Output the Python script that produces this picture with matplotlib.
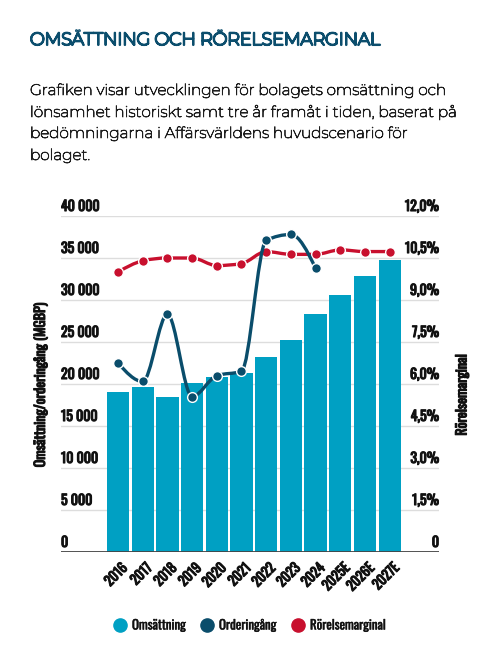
import numpy as np
import matplotlib
matplotlib.use("Agg")
import matplotlib.pyplot as plt
import matplotlib.patheffects as pe
from matplotlib.path import Path
from matplotlib.patches import PathPatch
from matplotlib.lines import Line2D
import matplotlib.transforms as mtransforms

# ---------------------------------------------------------------------
# Data
# ---------------------------------------------------------------------
years = ["2016", "2017", "2018", "2019", "2020", "2021", "2022", "2023",
         "2024", "2025E", "2026E", "2027E"]
omsattning = [19100, 19700, 18500, 20150, 20850, 21350, 23250, 25200,
              28300, 30600, 32800, 34800]
orderingang = [22500, 20300, 28300, 18500, 21000, 21500, 37100, 37800,
               33800]
marginal = [10.0, 10.4, 10.5, 10.5, 10.23, 10.3, 10.73, 10.63, 10.63,
            10.79, 10.73, 10.73]

left_ticks = [0, 5000, 10000, 15000, 20000, 25000, 30000, 35000, 40000]
left_labels = ["0", "5 000", "10 000", "15 000", "20 000", "25 000",
               "30 000", "35 000", "40 000"]
right_ticks = [0, 1.5, 3.0, 4.5, 6.0, 7.5, 9.0, 10.5, 12.0]
right_labels = ["0", "1,5%", "3,0%", "4,5%", "6,0%", "7,5%", "9,0%",
                "10,5%", "12,0%"]
legend_names = ["Omsättning", "Orderingång", "Rörelsemarginal"]

C_BAR = "#00a0c3"
C_ORDER = "#0a4d6b"
C_MARG = "#c8102e"
C_TITLE = "#0c4e6d"
C_TEXT = "#111111"

COND = ["Oswald", "Roboto Condensed", "DejaVu Sans"]
SANS = ["Montserrat", "Open Sans", "DejaVu Sans"]

# the installed variable fonts only give their light default instance,
# so thicken with a stroke of the same colour
def heavy(w, c):
    return [pe.withStroke(linewidth=w, foreground=c)]


def monotone_path(xs, ys):
    """Monotone cubic (Fritsch-Carlson, like d3 curveMonotoneX) as a bezier path."""
    xs = np.asarray(xs, float)
    ys = np.asarray(ys, float)
    n = len(xs)
    h = np.diff(xs)
    s = np.diff(ys) / h
    t = np.zeros(n)
    for i in range(1, n - 1):
        p = (s[i - 1] * h[i] + s[i] * h[i - 1]) / (h[i - 1] + h[i])
        t[i] = (np.sign(s[i - 1]) + np.sign(s[i])) * min(abs(s[i - 1]), abs(s[i]), 0.5 * abs(p))
    t[0] = (3 * s[0] - t[1]) / 2
    t[-1] = (3 * s[-1] - t[-2]) / 2
    verts = [(xs[0], ys[0])]
    codes = [Path.MOVETO]
    for i in range(n - 1):
        dx = h[i] / 3
        verts += [(xs[i] + dx, ys[i] + dx * t[i]),
                  (xs[i + 1] - dx, ys[i + 1] - dx * t[i + 1]),
                  (xs[i + 1], ys[i + 1])]
        codes += [Path.CURVE4] * 3
    return Path(verts, codes)


fig = plt.figure(figsize=(5.0, 6.63), dpi=100)

# title + intro
fig.text(30 / 500, 1 - 45 / 663, "OMSÄTTNING OCH RÖRELSEMARGINAL",
         fontsize=12.6, family=SANS, color=C_TITLE, va="baseline", ha="left",
         path_effects=heavy(1.5, C_TITLE))
intro = ["Grafiken visar utvecklingen för bolagets omsättning och",
         "lönsamhet historiskt samt tre år framåt i tiden, baserat på",
         "bedömningarna i Affärsvärldens huvudscenario för",
         "bolaget."]
for line, base in zip(intro, [95, 117, 138, 160]):
    fig.text(30 / 500, 1 - base / 663, line, fontsize=11.0, family=SANS,
             color="#1e1e1e", va="baseline", ha="left",
             path_effects=heavy(0.55, "#1e1e1e"))

ax = fig.add_axes([61 / 500, 1 - 552 / 663, 378 / 500, 336 / 663])
ax2 = ax.twinx()

x = np.arange(len(years))
ax.set_xlim(-2.31, 13.0)
ax.set_ylim(0, 40000)
ax2.set_ylim(0, 12.0)

for a in (ax, ax2):
    for s in a.spines.values():
        s.set_visible(False)
    a.set_xticks([])
    a.set_yticks([])

# gridlines
for t in left_ticks[1:]:
    ax.axhline(t, color="#dddddd", lw=1.0, zorder=0)
ax.axhline(0, color="#444444", lw=1.3, zorder=3)

ax.bar(x, omsattning, width=0.9, color=C_BAR, zorder=2)

# Rörelsemarginal (right axis)
ax2.add_patch(PathPatch(monotone_path(x, marginal), fill=False,
                        edgecolor=C_MARG, lw=2.4, zorder=4))
ax2.plot(x, marginal, "o", color=C_MARG, ms=7, mec="white", mew=1.0,
         zorder=5)

# Orderingång (left axis), drawn on ax2 so it sits above the margin line
xo = x[:len(orderingang)]
ord_scaled = np.array(orderingang) * 12.0 / 40000
ax2.add_patch(PathPatch(monotone_path(xo, ord_scaled), fill=False,
                        edgecolor=C_ORDER, lw=2.4, zorder=6))
ax2.plot(xo, ord_scaled, "o", color=C_ORDER, ms=7, mec="white", mew=1.0,
         zorder=7)

# y tick labels above gridlines
up = mtransforms.ScaledTranslation(0, 3 / 100, fig.dpi_scale_trans)
tl = mtransforms.blended_transform_factory(ax.transAxes, ax.transData) + up
for t, lab in zip(left_ticks, left_labels):
    ax.text(0, t, lab, transform=tl, ha="left", va="bottom", fontsize=10,
            family=COND, color=C_TEXT, path_effects=heavy(0.8, C_TEXT))
tr = mtransforms.blended_transform_factory(ax2.transAxes, ax2.transData) + up
for t, lab in zip(right_ticks, right_labels):
    ax2.text(1, t, lab, transform=tr, ha="right", va="bottom", fontsize=10,
             family=COND, color=C_TEXT, path_effects=heavy(0.8, C_TEXT))

# x labels
down = mtransforms.ScaledTranslation(2.5 / 100, -9 / 100, fig.dpi_scale_trans)
for xi, lab in zip(x, years):
    ax.text(xi, 0, lab, transform=ax.transData + down, rotation=45,
            rotation_mode="anchor", ha="right", va="top", fontsize=9.8,
            family=COND, color=C_TEXT, path_effects=heavy(0.8, C_TEXT))

fig.text(41 / 500, 1 - 385 / 663, "Omsättning/orderingång (MGBP)",
         rotation=90, ha="center", va="center", fontsize=10,
         family=COND, color=C_TEXT, path_effects=heavy(0.8, C_TEXT))
fig.text(462 / 500, 1 - 395 / 663, "Rörelsemarginal", rotation=90,
         ha="center", va="center", fontsize=10,
         family=COND, color=C_TEXT, path_effects=heavy(0.8, C_TEXT))

# legend, placed by hand
leg_y = 1 - 625 / 663
for cx, col, name in zip([120, 207, 298], (C_BAR, C_ORDER, C_MARG),
                         legend_names):
    fig.add_artist(Line2D([cx / 500], [leg_y], ls="none", marker="o", ms=9.5,
                          color=col, transform=fig.transFigure))
    fig.text((cx + 12) / 500, leg_y, name, ha="left", va="center",
             fontsize=9.3, family=COND, color=C_TEXT,
             path_effects=heavy(0.3, C_TEXT))

fig.savefig("out.png", dpi=100)
